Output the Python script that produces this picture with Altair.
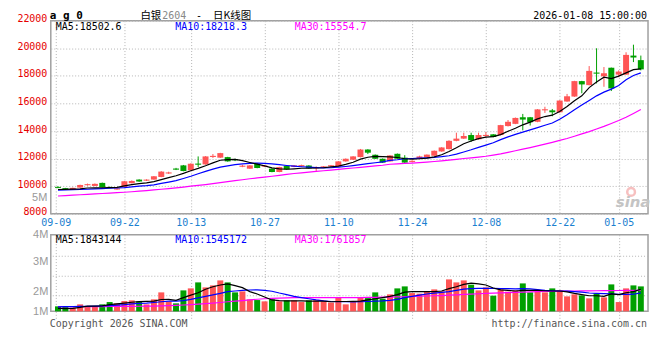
import json
import altair as alt
import pandas as pd

# ---------------- data ----------------
dates = ["09-09", "09-10", "09-11", "09-12", "09-15", "09-16", "09-17", "09-18", "09-19", "09-22",
         "09-23", "09-24", "09-25", "09-26", "09-29", "09-30", "10-09", "10-10", "10-13", "10-14",
         "10-15", "10-16", "10-17", "10-20", "10-21", "10-22", "10-23", "10-24", "10-27", "10-28",
         "10-29", "10-30", "10-31", "11-03", "11-04", "11-05", "11-06", "11-07", "11-10", "11-11",
         "11-12", "11-13", "11-14", "11-17", "11-18", "11-19", "11-20", "11-21", "11-24", "11-25",
         "11-26", "11-27", "11-28", "12-01", "12-02", "12-03", "12-04", "12-05", "12-08", "12-09",
         "12-10", "12-11", "12-12", "12-15", "12-16", "12-17", "12-18", "12-19", "12-22", "12-23",
         "12-24", "12-25", "12-26", "12-29", "12-30", "12-31", "01-05", "01-06", "01-07", "01-08"]

open_ = [9950, 9860, 9760, 9900, 10070, 10020, 10240, 9950, 9760, 9950,
         10220, 10480, 10400, 10480, 10670, 10920, 11280, 11510, 11150, 11640,
         11580, 12120, 12070, 12110, 11960, 11410, 11270, 11630, 11420, 11270,
         11030, 11480, 11400, 11450, 11500, 11300, 11330, 11440, 11440, 11800,
         11920, 12110, 12660, 12280, 11990, 11800, 12350, 12070, 11760, 11980,
         12100, 12210, 12520, 12690, 13290, 13450, 13710, 13400, 13640, 13760,
         13710, 14360, 14520, 15000, 15000, 14670, 15500, 15500, 15360, 16140,
         16500, 17620, 17330, 18240, 17970, 18590, 18090, 18090, 19470, 19140]
high = [9990, 9880, 9900, 10110, 10190, 10200, 10260, 9970, 9870, 10380,
        10420, 10500, 10500, 10740, 11090, 11050, 11330, 11540, 11660, 12160,
        12180, 12330, 12420, 12130, 12000, 11560, 11530, 11660, 11540, 11290,
        11410, 11500, 11530, 11560, 11520, 11440, 11460, 11540, 11820, 12010,
        12180, 12700, 12680, 12300, 12010, 12250, 12370, 12250, 11880, 12210,
        12300, 12590, 12830, 13330, 13880, 13880, 13880, 13880, 13930, 13780,
        14450, 14800, 14980, 15240, 15020, 15590, 15760, 15600, 16230, 16690,
        17640, 17640, 18710, 20000, 18640, 18600, 18400, 19710, 20260, 19470]
low = [9850, 9770, 9740, 9890, 10040, 10000, 9910, 9860, 9740, 9940,
       10200, 10320, 10380, 10470, 10650, 10890, 11170, 11080, 11130, 11390,
       11560, 12050, 12050, 11780, 11820, 11380, 11260, 11300, 11400, 11010,
       11010, 11200, 11380, 11420, 11280, 11100, 11320, 11420, 11420, 11780,
       11900, 12090, 12330, 11970, 11690, 11780, 11980, 11640, 11730, 11950,
       12080, 12200, 12500, 12670, 13260, 13430, 13210, 13380, 13520, 13550,
       13690, 14330, 14500, 14050, 14400, 14640, 15310, 15070, 15330, 16120,
       16480, 16740, 17310, 17450, 17210, 16900, 17900, 18070, 19000, 18400]
close = [9880, 9790, 9880, 10090, 10150, 10170, 9930, 9880, 9840, 10360,
         10380, 10340, 10480, 10720, 11060, 11000, 11200, 11100, 11630, 11560,
         12160, 12200, 12400, 11800, 11880, 11490, 11510, 11320, 11500, 11030,
         11390, 11220, 11510, 11530, 11300, 11380, 11440, 11520, 11800, 11990,
         12160, 12660, 12430, 11990, 11710, 12230, 11990, 11710, 11840, 12160,
         12290, 12570, 12810, 13290, 13450, 13640, 13330, 13710, 13720, 13570,
         14430, 14670, 14950, 14830, 14640, 15570, 15580, 15360, 16210, 16520,
         17620, 17380, 18360, 18160, 18190, 17090, 18310, 19520, 19330, 18470]

ma5 = [9760, 9770, 9790, 9810, 9870, 9880, 9890, 9900, 9920, 10020,
       10120, 10190, 10240, 10330, 10480, 10620, 10760, 10930, 11120, 11290,
       11480, 11690, 11880, 11930, 11950, 11850, 11720, 11600, 11470, 11330,
       11260, 11230, 11260, 11300, 11300, 11320, 11340, 11400, 11460, 11580,
       11740, 11960, 12100, 12160, 12140, 12120, 12080, 11990, 11960, 11990,
       12040, 12130, 12280, 12520, 12790, 13080, 13280, 13450, 13560, 13600,
       13740, 13980, 14200, 14450, 14650, 14880, 15050, 15150, 15420, 15780,
       16200, 16550, 17150, 17550, 17900, 17800, 17980, 18220, 18450, 18502.6]
ma10 = [9720, 9730, 9745, 9760, 9780, 9800, 9830, 9850, 9870, 9900,
        9950, 10000, 10040, 10100, 10200, 10300, 10400, 10560, 10720, 10900,
        11080, 11240, 11380, 11480, 11560, 11620, 11660, 11680, 11660, 11620,
        11560, 11500, 11450, 11410, 11380, 11350, 11330, 11340, 11380, 11430,
        11490, 11560, 11640, 11700, 11760, 11870, 11920, 11990, 12010, 12030,
        12060, 12090, 12140, 12210, 12330, 12480, 12640, 12820, 12980, 13150,
        13380, 13580, 13760, 13920, 14080, 14250, 14420, 14580, 14850, 15180,
        15550, 15880, 16220, 16550, 16820, 17040, 17300, 17720, 18030, 18218.3]
ma30 = [9290, 9320, 9350, 9380, 9410, 9440, 9470, 9500, 9530, 9560,
        9600, 9640, 9680, 9730, 9780, 9830, 9880, 9940, 10000, 10060,
        10120, 10190, 10260, 10330, 10400, 10470, 10540, 10600, 10660, 10720,
        10790, 10860, 10920, 10970, 11020, 11070, 11120, 11170, 11220, 11270,
        11320, 11370, 11420, 11470, 11520, 11590, 11620, 11650, 11680, 11710,
        11750, 11790, 11840, 11890, 11950, 12010, 12060, 12110, 12170, 12250,
        12340, 12450, 12570, 12690, 12800, 12920, 13050, 13180, 13320, 13460,
        13620, 13790, 13960, 14150, 14340, 14550, 14760, 15000, 15270, 15554.7]

volume = [417000, 417000, 308000, 583000, 417000, 417000, 583000, 775000, 667000, 858000,
          917000, 833000, 583000, 1000000, 1583000, 833000, 667000, 1750000, 1917000, 2417000,
          2000000, 2167000, 2583000, 2417000, 1583000, 1667000, 1000000, 942000, 833000, 1000000,
          833000, 917000, 917000, 775000, 917000, 917000, 833000, 733000, 1142000, 583000,
          775000, 1142000, 1108000, 1583000, 1058000, 1417000, 1917000, 2083000, 1525000, 1475000,
          1667000, 1833000, 1667000, 2667000, 2417000, 2583000, 2225000, 1750000, 2000000, 1308000,
          1833000, 1642000, 1750000, 2333000, 1583000, 1667000, 1583000, 1917000, 1750000, 1250000,
          1417000, 1333000, 1083000, 1500000, 1167000, 2250000, 775000, 1917000, 2167000, 2083000]
vol_ma5 = [250000, 230000, 250000, 330000, 430000, 430000, 460000, 560000, 620000, 690000,
           760000, 810000, 830000, 850000, 990000, 1000000, 920000, 1150000, 1350000, 1550000,
           1850000, 2050000, 2200000, 2300000, 2150000, 1980000, 1650000, 1450000, 1200000, 950000,
           900000, 880000, 880000, 870000, 850000, 860000, 850000, 800000, 820000, 820000,
           830000, 850000, 950000, 1050000, 1150000, 1250000, 1400000, 1600000, 1650000, 1650000,
           1650000, 1650000, 1700000, 1900000, 2050000, 2250000, 2350000, 2300000, 2200000, 1950000,
           1800000, 1750000, 1700000, 1750000, 1750000, 1750000, 1720000, 1700000, 1700000, 1630000,
           1500000, 1400000, 1300000, 1300000, 1250000, 1450000, 1400000, 1550000, 1650000, 1843144]
vol_ma10 = [380000, 390000, 400000, 410000, 420000, 430000, 450000, 480000, 520000, 560000,
            620000, 660000, 690000, 740000, 800000, 850000, 850000, 900000, 1000000, 1130000,
            1250000, 1380000, 1500000, 1650000, 1700000, 1750000, 1780000, 1790000, 1750000, 1680000,
            1530000, 1400000, 1250000, 1150000, 1050000, 950000, 870000, 820000, 800000, 800000,
            790000, 800000, 820000, 850000, 870000, 920000, 1000000, 1150000, 1250000, 1350000,
            1450000, 1520000, 1580000, 1650000, 1750000, 1850000, 1900000, 1920000, 1930000, 1920000,
            1900000, 1900000, 1880000, 1900000, 1880000, 1820000, 1750000, 1720000, 1700000, 1680000,
            1650000, 1600000, 1530000, 1500000, 1480000, 1470000, 1420000, 1420000, 1430000, 1545172]
vol_ma30 = [390000, 390000, 390000, 395000, 395000, 400000, 400000, 405000, 410000, 415000,
            420000, 425000, 430000, 440000, 460000, 480000, 500000, 530000, 560000, 600000,
            640000, 690000, 740000, 800000, 850000, 900000, 960000, 1010000, 1050000, 1090000,
            1110000, 1130000, 1140000, 1150000, 1150000, 1150000, 1150000, 1150000, 1150000, 1150000,
            1150000, 1150000, 1160000, 1170000, 1180000, 1190000, 1200000, 1220000, 1240000, 1260000,
            1280000, 1300000, 1320000, 1350000, 1380000, 1410000, 1440000, 1470000, 1500000, 1520000,
            1540000, 1560000, 1580000, 1600000, 1620000, 1640000, 1660000, 1670000, 1680000, 1690000,
            1700000, 1710000, 1715000, 1720000, 1725000, 1735000, 1740000, 1745000, 1752000, 1761857]

price_ticks = [8000, 10000, 12000, 14000, 16000, 18000, 20000, 22000]
tick_dates = ["09-09", "09-22", "10-13", "10-27", "11-10", "11-24", "12-08", "12-22", "01-05"]
vol_label_text = ["1M", "2M", "3M", "4M", "5M"]
vol_label_values = [0, 1660000, 4160000, 6400000]   # where 1M..4M sit on the volume axis
vol_label5_price = 9000                              # "5M" sits beside the price axis
vol_grid = [1300000, 2930000, 4600000]

symbol = "a g 0"
title_name, title_code, title_kind = "白银", "2604", "日K线图"
timestamp = "2026-01-08 15:00:00"
copyright_text = "Copyright 2026 SINA.COM"
url_text = "http://finance.sina.com.cn"

# ---------------- styles ----------------
RED, GREEN = "#ff5555", "#00a000"
GRID, BORDER = "#b4b4b4", "#a0a0a0"
MONO, SANS, CJK = "DejaVu Sans Mono", "Liberation Sans", "Noto Sans CJK SC"
C5, C10, C30 = "#000000", "#0000ff", "#ff00ff"

n = len(dates)
df = pd.DataFrame({
    "i": list(range(n)), "date": dates,
    "open": open_, "high": high, "low": low, "close": close,
    "ma5": ma5, "ma10": ma10, "ma30": ma30,
    "vol": volume, "vma5": vol_ma5, "vma10": vol_ma10, "vma30": vol_ma30,
})
df["dir"] = ["up" if c >= o else "down" for o, c in zip(open_, close)]

x_domain = [-0.3, n - 0.7]
x_scale = alt.Scale(domain=x_domain, nice=False, zero=False)
tick_pos = [dates.index(d) for d in tick_dates]
tick_pos[0] = x_domain[0]
date_expr = json.dumps(dates) + "[round(datum.value)]"

price_scale = alt.Scale(domain=[price_ticks[0], price_ticks[-1]], nice=False, zero=False)
vol_scale = alt.Scale(domain=[0, vol_label_values[-1]], nice=False, zero=False)

five_test = f"datum.value == {vol_label5_price}"
price_axis = alt.Axis(
    values=price_ticks + [vol_label5_price], format="d",
    labelExpr=f"{five_test} ? '{vol_label_text[4]}' : datum.label",
    labelColor={"condition": {"test": five_test, "value": "#999999"}, "value": "#e60000"},
    labelFont={"condition": {"test": five_test, "value": SANS}, "value": MONO},
    labelFontSize={"condition": {"test": five_test, "value": 11}, "value": 10},
    labelOffset=-2, labelPadding=4, labelFlush=False, labelOverlap=False,
    ticks=False, domain=False, grid=True, gridColor=GRID, gridDash=[1, 2],
    gridOpacity={"condition": {"test": five_test, "value": 0}, "value": 1},
    minExtent=42, maxExtent=42, title=None)

parts = []
for k in range(len(vol_label_values) - 1):
    mid = (vol_label_values[k] + vol_label_values[k + 1]) / 2
    parts.append(f"datum.value < {mid} ? '{vol_label_text[k]}' : ")
vol_expr = "".join(parts) + f"'{vol_label_text[len(vol_label_values) - 1]}'"
vol_axis = alt.Axis(values=vol_label_values, labelExpr=vol_expr, labelColor="#999999",
                    labelFont=SANS, labelFontSize=11, labelPadding=3, labelFlush=False,
                    labelOverlap=False, ticks=False, domain=False, grid=False,
                    minExtent=42, maxExtent=42, title=None)

top_x_axis = alt.Axis(values=tick_pos, labelExpr=date_expr, labelColor="#1a80d0",
                      labelFont=MONO, labelFontSize=10, labelPadding=4, labelFlush=False,
                      labelOverlap=False, ticks=False, domain=False, grid=True,
                      gridColor=GRID, gridDash=[1, 2], title=None)
vol_x_axis = alt.Axis(values=tick_pos, labels=False, ticks=True, tickSize=8, tickColor=GRID,
                      tickDash=[1, 2], domain=False, grid=True, gridColor=GRID,
                      gridDash=[1, 2], title=None)

dir_color = alt.Color("dir:N", scale=alt.Scale(domain=["up", "down"], range=[RED, GREEN]),
                      legend=None)


def label(text, x, y, color="#000000", font=MONO, size=10, weight="normal",
          align="left", style="normal"):
    return alt.Chart(pd.DataFrame({"t": [text]})).mark_text(
        align=align, baseline="alphabetic", font=font, fontSize=size,
        fontWeight=weight, fontStyle=style, color=color
    ).encode(text="t:N", x=alt.value(x), y=alt.value(y))


base = alt.Chart(df)
XT = alt.X("i:Q", scale=x_scale, axis=top_x_axis)
XV = alt.X("i:Q", scale=x_scale, axis=vol_x_axis)


def py(field):
    return alt.Y(f"{field}:Q", scale=price_scale, axis=price_axis)


def vy(field):
    return alt.Y(f"{field}:Q", scale=vol_scale, axis=vol_axis)


wick = base.mark_rule(strokeWidth=1).encode(x=XT, y=py("low"), y2="high:Q", color=dir_color)
body = base.mark_bar(size=6).encode(x=XT, y=py("open"), y2="close:Q", color=dir_color)
l30 = base.mark_line(color=C30, strokeWidth=1.2).encode(x=XT, y=py("ma30"))
l10 = base.mark_line(color=C10, strokeWidth=1.2).encode(x=XT, y=py("ma10"))
l5 = base.mark_line(color=C5, strokeWidth=1.2).encode(x=XT, y=py("ma5"))

eye = alt.Chart(pd.DataFrame({"a": [0]})).mark_point(
    shape="circle", size=60, filled=False, color="#f4a6a6", strokeWidth=2.5
).encode(x=alt.value(583), y=alt.value(172))

TY = -2  # baseline of the header texts, just above the plot frame
top = alt.layer(
    wick, body, l30, l10, l5,
    label(f"MA5:{ma5[-1]}", 5, 9, C5),
    label(f"MA10:{ma10[-1]}", 125, 9, C10),
    label(f"MA30:{ma30[-1]}", 245, 9, C30),
    label(symbol, -1, TY, "#000000", MONO, 11, "bold"),
    label(title_name, 90, TY, "#000000", CJK, 10.5),
    label(title_code, 112, TY, "#888888", MONO, 10),
    label("-", 146, TY, "#000000", MONO, 10),
    label(title_kind, 163, TY, "#000000", CJK, 10.5),
    label(timestamp, 599, TY, "#000000", MONO, 10, align="right"),
    eye,
    label("sina", 585, 187, "#c4c4c4", "DejaVu Sans", 15, "bold", "center", "italic"),
).properties(width=600, height=194)

vgrid = alt.Chart(pd.DataFrame({"g": vol_grid})).mark_rule(
    color=GRID, strokeDash=[1, 2]).encode(y=vy("g"))
vbars = base.mark_bar(size=6).encode(x=XV, y=vy("vol"), color=dir_color)
v30 = base.mark_line(color=C30, strokeWidth=1.2).encode(x=XV, y=vy("vma30"))
v10 = base.mark_line(color=C10, strokeWidth=1.2).encode(x=XV, y=vy("vma10"))
v5 = base.mark_line(color=C5, strokeWidth=1.2).encode(x=XV, y=vy("vma5"))

vol = alt.layer(
    vgrid, vbars, v30, v10, v5,
    label(f"MA5:{vol_ma5[-1]}", 5, 8, C5),
    label(f"MA10:{vol_ma10[-1]}", 125, 8, C10),
    label(f"MA30:{vol_ma30[-1]}", 245, 8, C30),
    label(copyright_text, -1, 92.5, "#555555", MONO, 10),
    label(url_text, 599, 92.5, "#555555", MONO, 10, align="right"),
).properties(width=600, height=77)

chart = alt.vconcat(top, vol, spacing=21, bounds="flush").properties(
    padding=0, background="#ffffff"
).configure_view(stroke=BORDER, strokeWidth=1.5)

chart.save("out.html", embed_options={"renderer": "svg", "actions": False})
